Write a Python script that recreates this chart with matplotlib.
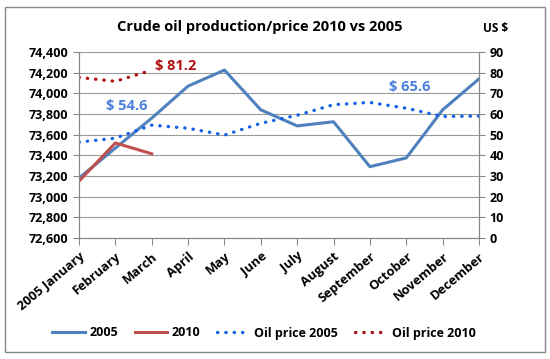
import numpy as np
import matplotlib.pyplot as plt
from matplotlib.patches import Rectangle

months = ['2005 January', 'February', 'March', 'April', 'May', 'June', 'July',
          'August', 'September', 'October', 'November', 'December']
prod_2005 = [73180, 73470, 73760, 74070, 74225, 73840, 73685, 73725, 73290, 73375, 73840, 74140]
prod_2010 = [73150, 73520, 73415]
price_2005 = [46.4, 48.3, 54.6, 53.1, 49.8, 55.5, 59.4, 64.5, 65.6, 62.8, 58.8, 59.0]
price_2010 = [77.7, 75.8, 81.2]

plt.rcParams['font.family'] = ['Open Sans', 'DejaVu Sans']
plt.rcParams['font.weight'] = 'bold'

fig = plt.figure(figsize=(5.5, 3.59), dpi=100)
ax = fig.add_axes([79 / 550, 1 - 238 / 359, 400 / 550, 186 / 359])
ax2 = ax.twinx()

x = np.arange(len(months))
ax.plot(x, prod_2005, color='#4F81BD', lw=2.2, label='2005')
ax.plot(x[:len(prod_2010)], prod_2010, color='#C0504D', lw=2.2, label='2010')
ax2.plot(x, price_2005, color='#1560E8', lw=2.4, ls=(0, (0.1, 2.4)), dash_capstyle='round',
         label='Oil price 2005')
ax2.plot(x[:len(price_2010)], price_2010, color='#B01010', lw=2.4, ls=(0, (0.1, 2.4)),
         dash_capstyle='round', label='Oil price 2010')

ax.set_xlim(0, 11)
ax.set_ylim(72600, 74400)
ax.set_yticks(np.arange(72600, 74401, 200))
ax.set_yticklabels([f'{v:,}' for v in range(72600, 74401, 200)], fontsize=9)
ax2.set_ylim(0, 90)
ax2.set_yticks(np.arange(0, 91, 10))
ax2.tick_params(axis='y', labelsize=9, length=4, color='#888888')
ax.tick_params(axis='y', length=4, color='#888888')
ax.tick_params(axis='x', length=5, color='#888888')
ax.set_xticks(x)
ax.set_xticklabels(months, rotation=40, ha='right', rotation_mode='anchor', fontsize=9.3)
ax.grid(axis='y', color='#9a9a9a', lw=0.8)
ax.set_axisbelow(True)
for a in (ax, ax2):
    a.spines['top'].set_visible(False)
    for s in ('left', 'right', 'bottom'):
        a.spines[s].set_color('#888888')

ax2.text(2.65, 83, '$ 81.2', color='#B01010', fontsize=10.5, fontweight='bold', ha='center', va='center')
ax2.text(1.3, 64, '$ 54.6', color='#4A7FE0', fontsize=10.5, fontweight='bold', ha='center', va='center')
ax2.text(9.1, 73, '$ 65.6', color='#4A7FE0', fontsize=10.5, fontweight='bold', ha='center', va='center')

fig.text(260 / 550, 1 - 27 / 359, 'Crude oil production/price 2010 vs 2005', fontsize=10.5,
         fontweight='bold', ha='center', va='center')
fig.text(496 / 550, 1 - 29 / 359, 'US $', fontsize=8.5, fontweight='bold', ha='center', va='center')

h1, l1 = ax.get_legend_handles_labels()
h2, l2 = ax2.get_legend_handles_labels()
fig.legend(h1 + h2, l1 + l2, loc='center', bbox_to_anchor=(0.48, 1 - 333 / 359), ncol=4,
           frameon=False, fontsize=9, handlelength=2.6, columnspacing=1.3, handletextpad=0.4,
           borderpad=0.2)

fig.patches.append(Rectangle((5 / 550, 7 / 359), 540 / 550, 345 / 359, transform=fig.transFigure,
                             fill=False, edgecolor='#888888', lw=1))

fig.savefig('out.png', dpi=100)
